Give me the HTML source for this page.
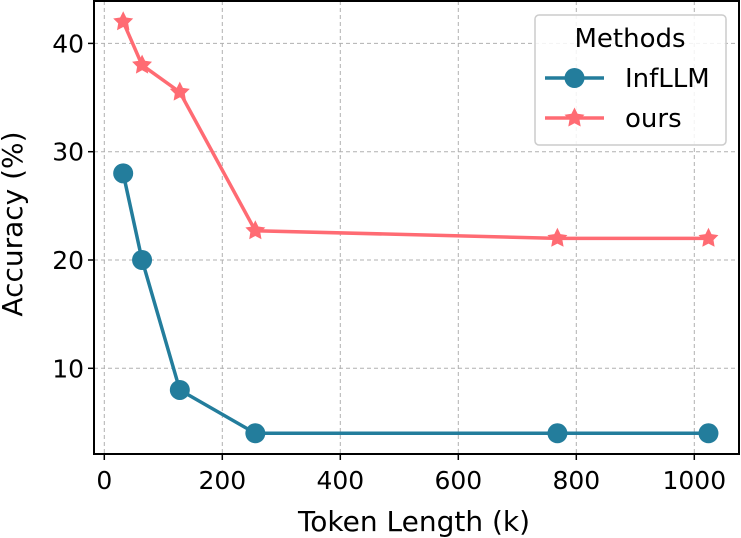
<!DOCTYPE html>
<html><head><meta charset="utf-8"><style>body{margin:0;background:#fff}svg{display:block}text{font-family:"DejaVu Sans","Liberation Sans",sans-serif}</style></head>
<body>
<svg id="c" width="741" height="538"></svg>
<script>
const xs=[32,64,128,256,768,1024];
const infllm=[28,20,8,4,4,4];
const ours=[42,38,35.5,22.7,22,22];
const xTicks=[0,200,400,600,800,1000];
const yTicks=[10,20,30,40];
const L=94,R=739,T=1,B=454;
const X=v=>104.3+v*0.59;
const Y=v=>476.6-v*10.83;
const svg=document.getElementById('c');
const NS='http://www.w3.org/2000/svg';
function mk(t,a,p){const e=document.createElementNS(NS,t);for(const k in a)e.setAttribute(k,a[k]);(p||svg).appendChild(e);return e;}
xTicks.forEach(v=>{
 const g=mk('line',{x1:X(v),x2:X(v),y1:T,y2:B,stroke:'#b0b0b0','stroke-dasharray':'4,3','stroke-width':1});
 
 const t=mk('line',{x1:X(v),x2:X(v),y1:B,y2:B+6,stroke:'#000','stroke-width':1.5});
 
 const l=mk('text',{x:X(v),y:B+35,'text-anchor':'middle','font-size':25});l.textContent=v;
 
});
yTicks.forEach(v=>{
 const g=mk('line',{x1:L,x2:R,y1:Y(v),y2:Y(v),stroke:'#b0b0b0','stroke-dasharray':'4,3','stroke-width':1});
 
 const t=mk('line',{x1:L-6,x2:L,y1:Y(v),y2:Y(v),stroke:'#000','stroke-width':1.5});
 
 const l=mk('text',{x:L-10,y:Y(v)+9,'text-anchor':'end','font-size':25});l.textContent=v;
 
});
const fr=mk('rect',{x:L,y:T,width:R-L,height:B-T,fill:'none',stroke:'#000','stroke-width':2});

function star(cx,cy,r,col,p){let pts=[];for(let i=0;i<10;i++){const a=-Math.PI/2+i*Math.PI/5,rr=i%2?r*0.5:r;pts.push((cx+rr*Math.cos(a)).toFixed(1)+','+(cy+rr*Math.sin(a)).toFixed(1));}return mk('polygon',{points:pts.join(' '),fill:col},p);}
const c1='#237d9c',c2='#ff6b73';
const l1=mk('polyline',{points:xs.map((x,i)=>X(x)+','+Y(infllm[i])).join(' '),fill:'none',stroke:c1,'stroke-width':3.5});

xs.forEach((x,i)=>{const m=mk('circle',{cx:X(x),cy:Y(infllm[i]),r:10,fill:c1});});
const l2=mk('polyline',{points:xs.map((x,i)=>X(x)+','+Y(ours[i])).join(' '),fill:'none',stroke:c2,'stroke-width':3.5});

xs.forEach((x,i)=>{const m=star(X(x),Y(ours[i]),10.5,c2);});
const xl=mk('text',{x:414,y:531,'text-anchor':'middle','font-size':28});xl.textContent='Token Length (k)';

const yl=mk('text',{x:0,y:0,'text-anchor':'middle','font-size':28,transform:'translate(22,224) rotate(-90)'});yl.textContent='Accuracy (%)';

const lg=mk('g',{});
mk('rect',{x:535,y:15,width:191,height:130,rx:4,fill:'#fff','fill-opacity':0.85,stroke:'#ccc','stroke-width':1.5},lg);
const lt=mk('text',{x:630,y:47,'text-anchor':'middle','font-size':26},lg);lt.textContent='Methods';
mk('line',{x1:545,x2:604,y1:78,y2:78,stroke:c1,'stroke-width':3.5},lg);
mk('circle',{cx:574.5,cy:78,r:10,fill:c1},lg);
const e1=mk('text',{x:625,y:87,'font-size':26},lg);e1.textContent='InfLLM';

mk('line',{x1:545,x2:604,y1:118,y2:118,stroke:c2,'stroke-width':3.5},lg);
star(574.5,118,10.5,c2,lg);
const e2=mk('text',{x:625,y:127,'font-size':26},lg);e2.textContent='ours';

</script>
</body></html>
